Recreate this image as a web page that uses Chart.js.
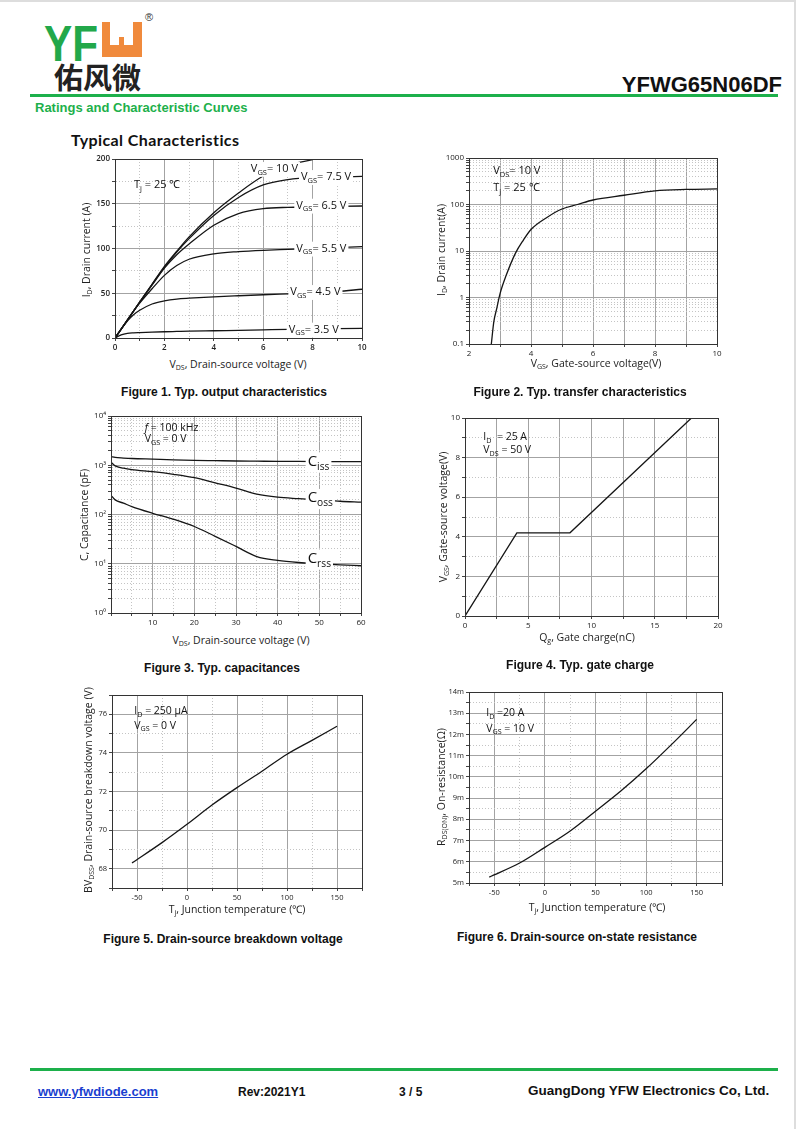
<!DOCTYPE html>
<html>
<head>
<meta charset="utf-8">
<script src="https://cdn.jsdelivr.net/npm/chart.js@4.4.0/dist/chart.umd.min.js"></script>
<style>
body { margin:0; background:#fff; }
#page { position:relative; width:800px; height:1129px; overflow:hidden; background:#fff; font-family:"Liberation Sans", Arial, sans-serif; color:#111; }
.abs { position:absolute; white-space:nowrap; line-height:1; }
.c { transform:translate(-50%,-50%); }
.rot { transform:translate(-50%,-50%) rotate(-90deg); }
.ax { font-family:"Open Sans", sans-serif; font-size:10.5px; color:#222; }
.ax sub { font-size:7px; vertical-align:-2px; line-height:0; }
.cap { font-weight:bold; font-size:12px; color:#111; }
canvas { position:absolute; }
</style>
</head>
<body>
<div id="page">
  <!-- page edge -->
  <div class="abs" style="left:0;top:0;width:795px;height:2px;background:#ddd"></div>
  <div class="abs" style="left:794px;top:0;width:2px;height:1129px;background:#ddd"></div>

  <!-- logo -->
  <div class="abs" style="left:44px;top:15px;font:bold 50px 'Liberation Sans';color:#22a84a;transform-origin:left top;transform:scaleX(0.845)">YF</div>
  <div class="abs" style="left:102px;top:22px;width:40px;height:35px;background:#f08a3c">
    <div style="position:absolute;left:8px;top:0;width:23px;height:23px;background:#fff"></div>
    <div style="position:absolute;left:17px;top:15px;width:5px;height:8px;background:#f08a3c"></div>
  </div>
  <div class="abs" style="left:145px;top:12px;font-size:11px;color:#333">®</div>
  <div class="abs" style="left:54px;top:55px;font:bold 29px 'Noto Sans CJK SC';color:#222">佑风微</div>

  <div class="abs" style="right:18px;top:72px;font:bold 22px 'Liberation Sans';color:#111">YFWG65N06DF</div>
  <div class="abs" style="left:30px;top:94px;width:748px;height:3px;background:#1db04b"></div>
  <div class="abs" style="left:35px;top:100px;font:bold 13px 'Liberation Sans';color:#1db04b">Ratings and Characteristic Curves</div>
  <div class="abs" style="left:71px;top:130px;font:bold 16px Lato;letter-spacing:0.4px;color:#111">Typical Characteristics</div>

  <canvas id="c1"></canvas><canvas id="c2"></canvas><canvas id="c3"></canvas>
  <canvas id="c4"></canvas><canvas id="c5"></canvas><canvas id="c6"></canvas>

  <!-- axis titles -->
  <div class="abs ax c" style="left:238px;top:364px">V<sub>DS</sub>, Drain-source voltage (V)</div>
  <div class="abs ax rot" style="left:86px;top:250px">I<sub>D</sub>, Drain current (A)</div>
  <div class="abs ax c" style="left:596px;top:363px">V<sub>GS</sub>, Gate-source voltage(V)</div>
  <div class="abs ax rot" style="left:441px;top:250px">I<sub>D</sub>, Drain current(A)</div>
  <div class="abs ax c" style="left:241px;top:640px">V<sub>DS</sub>, Drain-source voltage (V)</div>
  <div class="abs ax rot" style="left:84px;top:515px">C, Capacitance (pF)</div>
  <div class="abs ax c" style="left:587px;top:637px">Q<sub>g</sub>, Gate charge(nC)</div>
  <div class="abs ax rot" style="left:443px;top:517px">V<sub>GS</sub>, Gate-source voltage(V)</div>
  <div class="abs ax c" style="left:237px;top:909px">T<sub>j</sub>, Junction temperature (℃)</div>
  <div class="abs ax rot" style="left:88px;top:790px">BV<sub>DSS</sub>, Drain-source breakdown voltage (V)</div>
  <div class="abs ax c" style="left:597px;top:907px">T<sub>j</sub>, Junction temperature (℃)</div>
  <div class="abs ax rot" style="left:441px;top:787px">R<sub>DS(ON)</sub>, On-resistance(Ω)</div>

  <!-- captions -->
  <div class="abs cap c" style="left:224px;top:392px">Figure 1. Typ. output characteristics</div>
  <div class="abs cap c" style="left:580px;top:392px">Figure 2. Typ. transfer characteristics</div>
  <div class="abs cap c" style="left:222px;top:668px">Figure 3. Typ. capacitances</div>
  <div class="abs cap c" style="left:580px;top:665px">Figure 4. Typ. gate charge</div>
  <div class="abs cap c" style="left:223px;top:939px">Figure 5. Drain-source breakdown voltage</div>
  <div class="abs cap c" style="left:577px;top:937px">Figure 6. Drain-source on-state resistance</div>

  <!-- footer -->
  <div class="abs" style="left:30px;top:1068px;width:748px;height:3px;background:#1db04b"></div>
  <div class="abs" style="left:38px;top:1084px;font:bold 13px 'Liberation Sans';color:#1a3fd0;text-decoration:underline">www.yfwdiode.com</div>
  <div class="abs" style="left:238px;top:1085px;font:bold 12px 'Liberation Sans';color:#111">Rev:2021Y1</div>
  <div class="abs" style="left:399px;top:1085px;font:bold 12px 'Liberation Sans';color:#111">3 / 5</div>
  <div class="abs" style="left:528px;top:1083px;font:bold 13.5px 'Liberation Sans';color:#111">GuangDong YFW Electronics Co, Ltd.</div>
</div>

<script>
// Fig 1: output characteristics
const vds = [0, 0.25, 0.5, 0.75, 1, 1.5, 2, 2.5, 3, 4, 5, 6, 7, 8, 9, 10];
const id35 = [0, 3.5, 5.2, 5.8, 6.1, 6.6, 7, 7.3, 7.6, 8.1, 8.6, 9.1, 9.6, 10, 10.4, 10.8];
const id45 = [0, 10, 19, 26, 31, 38, 41.5, 43.5, 44.5, 46, 47.2, 48.3, 49.3, 50.3, 52, 54.5];
const id55 = [0, 10, 20, 30, 39, 55, 70, 81, 88, 94, 96.5, 98, 99, 100, 101, 102];
const id65 = [0, 10, 20, 30, 40, 59, 78, 93, 105, 126, 139, 144.5, 146, 146.5, 147, 147.5];
const id75 = [0, 10, 20, 30, 40, 60, 79, 96, 111, 137, 157, 171, 177, 179.5, 180, 180.5];
const id10 = [0, 10, 20, 30, 40, 60, 80, 97, 113, 140, 162, 181, 193, 199.3, null, null];

// Fig 2: transfer characteristics
const vgs2 = [2.72, 2.8, 2.9, 3.0, 3.2, 3.5, 3.75, 4, 4.5, 5, 5.5, 6, 7, 8, 9, 10];
const id2 = [0.1, 0.3, 0.6, 1.2, 3, 9, 17, 29, 52, 80, 100, 125, 158, 197, 211, 216];

// Fig 3: capacitances (pF)
const vds3 = [0, 1, 3, 5, 10, 15, 20, 25, 30, 35, 40, 45, 50, 55, 60];
const ciss = [1500, 1440, 1400, 1370, 1330, 1290, 1260, 1240, 1220, 1210, 1200, 1195, 1190, 1185, 1180];
const coss = [1150, 970, 870, 815, 740, 655, 560, 440, 345, 260, 225, 210, 198, 186, 178];
const crss = [245, 198, 170, 145, 106, 80, 57, 36, 22.5, 14, 11.7, 10.6, 10, 9.5, 9.1];

// Fig 4: gate charge
const qg = [0, 4.1, 8.3, 17.9];
const vgs4 = [0, 4.2, 4.2, 10];

// Fig 5 / 6: temperature
const tj = [-55, -25, 0, 25, 50, 75, 100, 125, 150];
const bvdss = [68.3, 69.35, 70.3, 71.3, 72.2, 73.05, 73.93, 74.65, 75.38];
const rdson = [5.28, 5.94, 6.68, 7.45, 8.38, 9.33, 10.38, 11.52, 12.71];

// tick labels
const x1Labels = [0, 2, 4, 6, 8, 10];
const y1Labels = [0, 50, 100, 150, 200];
const x2Labels = [2, 4, 6, 8, 10];
const y2Labels = [0.1, 1, 10, 100, 1000];
const x3Labels = [10, 20, 30, 40, 50, 60];
const y3Labels = [1, 10, 100, 1000, 10000];
const x4Labels = [0, 5, 10, 15, 20];
const y4Labels = [0, 2, 4, 6, 8, 10];
const tLabels = [-50, 0, 50, 100, 150];
const y5Labels = [68, 70, 72, 74, 76];
const y6Labels = [5, 6, 7, 8, 9, 10, 11, 12, 13, 14];

function range(a, b, s) { const r = []; for (let v = a; v <= b + 1e-9; v += s) r.push(+v.toFixed(3)); return r; }
function logTicks(lo, hi) {
  const r = [];
  for (let m = lo; m < hi; m *= 10) for (let d = 1; d < 10; d++) r.push(+(d * m).toPrecision(3));
  r.push(hi);
  return r;
}
const sup = ['\u2070', '\u00b9', '\u00b2', '\u00b3', '\u2074'];

function axis(pos, type, min, max, all, solid, labels, fmt, size, font) {
  const side = pos === 'left';
  return {
    type: type, position: pos, min: min, max: max,
    afterBuildTicks: s => { s.ticks = all.map(v => ({ value: v, lab: labels.includes(v), solid: solid.includes(v) })); },
    afterFit: s => {
      if (side) { s.width = size; s.paddingTop = 0; s.paddingBottom = 0; }
      else { s.height = size; s.paddingLeft = 0; s.paddingRight = 0; }
    },
    ticks: {
      autoSkip: false, maxRotation: 0, minRotation: 0, padding: 2, color: '#222',
      font: font || { family: '"Open Sans", sans-serif', size: 8 },
      callback: (v, i, ts) => ts[i] && ts[i].lab ? fmt(v) : ''
    },
    grid: {
      color: c => c.tick && c.tick.solid ? '#a3a3a3' : '#c4c4c4',
      lineWidth: 1, tickLength: 3, tickColor: '#444', drawTicks: true
    },
    border: { color: '#333', width: 1, dash: c => (c.tick && !c.tick.solid) ? [1, 2] : [] }
  };
}

function series(xs, ys, tension) {
  return {
    data: xs.map((x, i) => ({ x: x, y: ys[i] })),
    borderColor: '#151515', borderWidth: 1.3, pointRadius: 0, fill: false,
    cubicInterpolationMode: tension ? 'monotone' : 'default', tension: 0, spanGaps: false
  };
}

function rich(ctx, x, y, parts, size, bg) {
  const fam = '"Open Sans", sans-serif';
  const fontOf = k => (k === 'i' ? 'italic ' : '') + (k === 's' ? size * 0.68 : size) + 'px ' + fam;
  let w = 0;
  parts.forEach(p => { ctx.font = fontOf(p[1]); w += ctx.measureText(p[0]).width; });
  if (bg) { ctx.fillStyle = '#fff'; ctx.fillRect(x - 2, y - size * 0.62, w + 4, size * 1.35); }
  ctx.fillStyle = '#111'; ctx.textBaseline = 'middle'; ctx.textAlign = 'left';
  let cx = x;
  parts.forEach(p => {
    ctx.font = fontOf(p[1]);
    ctx.fillText(p[0], cx, p[1] === 's' ? y + size * 0.34 : y);
    cx += ctx.measureText(p[0]).width;
  });
}

const notesPlugin = {
  id: 'notes',
  afterDatasetsDraw(chart, args, opts) {
    const ctx = chart.ctx, xs = chart.scales.x, ys = chart.scales.y;
    ctx.save();
    (opts.items || []).forEach(n => {
      rich(ctx, xs.getPixelForValue(n.x), ys.getPixelForValue(n.y), n.parts, n.size || opts.size || 11, n.bg);
    });
    const a = chart.chartArea;
    ctx.strokeStyle = '#333'; ctx.lineWidth = 1;
    ctx.strokeRect(Math.round(a.left) + 0.5, Math.round(a.top) + 0.5, Math.round(a.right - a.left), Math.round(a.bottom - a.top));
    ctx.restore();
  }
};

function plot(id, box, datasets, xAxis, yAxis, notes, padL) {
  const padB = 16, padT = 8, padR = 14;
  const cv = document.getElementById(id);
  const w = box.r - box.l + padL + padR, h = box.b - box.t + padT + padB;
  cv.width = w; cv.height = h;
  cv.style.left = (box.l - padL) + 'px'; cv.style.top = (box.t - padT) + 'px';
  cv.style.width = w + 'px'; cv.style.height = h + 'px';
  return new Chart(cv.getContext('2d'), {
    type: 'line',
    data: { datasets: datasets },
    options: {
      responsive: false, animation: false, events: [],
      layout: { padding: { top: padT, right: padR, left: 0, bottom: 0 } },
      scales: { x: xAxis, y: yAxis },
      plugins: { legend: { display: false }, tooltip: { enabled: false }, notes: { items: notes } }
    },
    plugins: [notesPlugin]
  });
}

const vgsParts = t => [['V', ''], ['GS', 's'], [t, '']];
const boldTick = { family: '"Open Sans", sans-serif', size: 8, weight: '600' };
const smallTick = { family: '"Open Sans", sans-serif', size: 7.5 };

// Figure 1
plot('c1', { l: 115, r: 362, t: 159, b: 338 },
  [series(vds, id35, 1), series(vds, id45, 1), series(vds, id55, 1), series(vds, id65, 1), series(vds, id75, 1), series(vds, id10, 1)],
  axis('bottom', 'linear', 0, 10, range(0, 10, 1), x1Labels, x1Labels, v => v, 16, boldTick),
  axis('left', 'linear', 0, 200, range(0, 200, 25), y1Labels, y1Labels, v => v, 30, boldTick),
  [
    { x: 0.77, y: 171, parts: [['T', ''], ['j', 's'], [' = 25 ℃', '']] },
    { x: 5.5, y: 189, parts: vgsParts('= 10 V'), bg: true },
    { x: 7.53, y: 180, parts: vgsParts('= 7.5 V'), bg: true },
    { x: 7.34, y: 148, parts: vgsParts('= 6.5 V'), bg: true },
    { x: 7.34, y: 100, parts: vgsParts('= 5.5 V'), bg: true },
    { x: 7.1, y: 51.5, parts: vgsParts('= 4.5 V'), bg: true },
    { x: 7.03, y: 9.5, parts: vgsParts('= 3.5 V'), bg: true }
  ], 30);

// Figure 2
plot('c2', { l: 469, r: 717, t: 158, b: 344 },
  [series(vgs2, id2, 1)],
  axis('bottom', 'linear', 2, 10, range(2, 10, 1), range(2, 10, 1), x2Labels, v => v, 16),
  axis('left', 'logarithmic', 0.1, 1000, logTicks(0.1, 1000), y2Labels, y2Labels, v => v, 30),
  [
    { x: 2.78, y: 528, parts: [['V', ''], ['DS', 's'], ['= 10 V', '']] },
    { x: 2.78, y: 230, parts: [['T', ''], ['j', 's'], [' = 25 ℃', '']] }
  ], 30);

// Figure 3
plot('c3', { l: 111, r: 361, t: 416, b: 613 },
  [series(vds3, ciss, 1), series(vds3, coss, 1), series(vds3, crss, 1)],
  axis('bottom', 'linear', 0, 60, range(0, 60, 5), range(10, 50, 10), x3Labels, v => v, 16),
  axis('left', 'logarithmic', 1, 10000, logTicks(1, 10000), y3Labels, y3Labels, v => '10' + sup[Math.round(Math.log10(v))], 31),
  [
    { x: 8.1, y: 5800, parts: [['f', 'i'], [' = 100 kHz', '']], size: 10.5 },
    { x: 8.1, y: 3370, parts: [['V', ''], ['GS', 's'], [' = 0 V', '']], size: 10.5 },
    { x: 47.2, y: 1186, parts: [['C', ''], ['iss', 's']], size: 15, bg: true },
    { x: 47.2, y: 214, parts: [['C', ''], ['oss', 's']], size: 15, bg: true },
    { x: 47.2, y: 12.6, parts: [['C', ''], ['rss', 's']], size: 15, bg: true }
  ], 31);

// Figure 4
plot('c4', { l: 465, r: 718, t: 418, b: 616 },
  [series(qg, vgs4, 0)],
  axis('bottom', 'linear', 0, 20, range(0, 20, 2.5), range(0, 20, 2.5), x4Labels, v => v, 16),
  axis('left', 'linear', 0, 10, range(0, 10, 1), y4Labels, y4Labels, v => v, 30),
  [
    { x: 1.45, y: 9.04, parts: [['I', ''], ['D', 's'], ['  = 25 A', '']], size: 10.5 },
    { x: 1.45, y: 8.37, parts: [['V', ''], ['DS', 's'], [' = 50 V', '']], size: 10.5 }
  ], 30);

// Figure 5
plot('c5', { l: 112, r: 362, t: 695, b: 888 },
  [series(tj, bvdss, 1)],
  axis('bottom', 'linear', -75, 175, range(-75, 175, 25), tLabels, tLabels, v => v, 16, smallTick),
  axis('left', 'linear', 67, 77, range(67, 77, 1), y5Labels, y5Labels, v => v, 30, smallTick),
  [
    { x: -52.7, y: 76.17, parts: [['I', ''], ['D', 's'], [' = 250 µA', '']], size: 10.5 },
    { x: -52.7, y: 75.4, parts: [['V', ''], ['GS', 's'], [' = 0 V', '']], size: 10.5 }
  ], 30);

// Figure 6
plot('c6', { l: 469, r: 722, t: 692, b: 883 },
  [series(tj, rdson, 1)],
  axis('bottom', 'linear', -75, 175, range(-75, 175, 25), tLabels, tLabels, v => v, 16, smallTick),
  axis('left', 'linear', 5, 14, range(5, 14, 0.5), y6Labels, y6Labels, v => v + 'm', 30, smallTick),
  [
    { x: -58, y: 13.0, parts: [['I', ''], ['D', 's'], [' =20 A', '']], size: 10.5 },
    { x: -58, y: 12.27, parts: [['V', ''], ['GS', 's'], [' = 10 V', '']], size: 10.5 }
  ], 30);
</script>
</body>
</html>
